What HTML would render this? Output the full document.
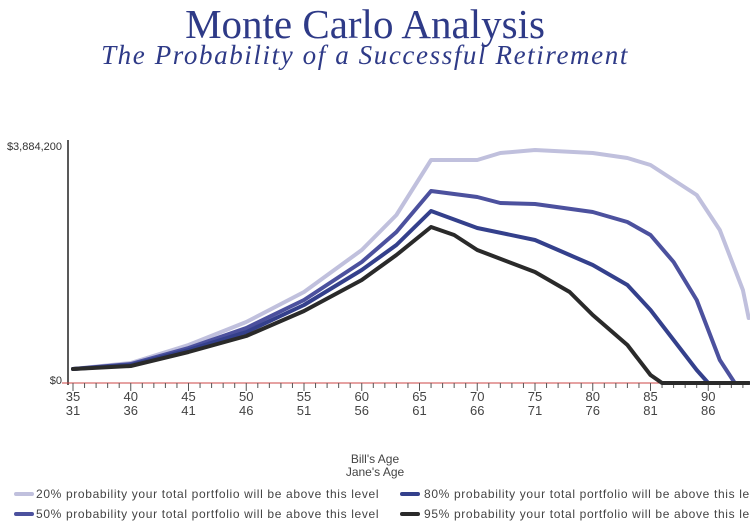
<!DOCTYPE html>
<html><head><meta charset="utf-8"><style>
body{margin:0;background:#fff;width:750px;height:530px;overflow:hidden;position:relative;font-family:"Liberation Sans",sans-serif}
.t{position:absolute;left:0;width:730px;text-align:center;color:#2e3a87;font-family:"Liberation Serif",serif}
</style></head><body>
<div class="t" style="top:0px;font-size:41px">Monte Carlo Analysis</div>
<div class="t" style="top:40px;font-size:27px;font-style:italic;letter-spacing:1.6px">The Probability of a Successful Retirement</div>
<svg width="750" height="530" style="position:absolute;left:0;top:0" font-family="Liberation Sans, sans-serif">
<text x="62" y="150" font-size="11" text-anchor="end" fill="#333">$3,884,200</text>
<text x="62" y="384" font-size="11" text-anchor="end" fill="#333">$0</text>
<line x1="68" y1="140" x2="68" y2="385" stroke="#222" stroke-width="1.5"/>
<line x1="62" y1="383" x2="750" y2="383" stroke="#c44" stroke-width="1"/>
<g id="ticks" stroke="#555" stroke-width="1"></g>
<g font-size="13" fill="#444" text-anchor="middle" id="lbl"></g>
<g fill="none" stroke-linejoin="round" stroke-linecap="round" stroke-width="4" id="cur"></g>
<text x="375" y="463" font-size="12" fill="#444" text-anchor="middle">Bill's Age</text>
<text x="375" y="476" font-size="12" fill="#444" text-anchor="middle">Jane's Age</text>
<line x1="16" y1="494" x2="32" y2="494" stroke="#c0c0dd" stroke-width="4" stroke-linecap="round"/>
<text x="36" y="498" font-size="12" fill="#444" letter-spacing="0.65">20% probability your total portfolio will be above this level</text>
<line x1="16" y1="514" x2="32" y2="514" stroke="#4c519e" stroke-width="4" stroke-linecap="round"/>
<text x="36" y="518" font-size="12" fill="#444" letter-spacing="0.65">50% probability your total portfolio will be above this level</text>
<line x1="402" y1="494" x2="418" y2="494" stroke="#34408c" stroke-width="4" stroke-linecap="round"/>
<text x="424" y="498" font-size="12" fill="#444" letter-spacing="0.65">80% probability your total portfolio will be above this level</text>
<line x1="402" y1="514" x2="418" y2="514" stroke="#2a2a2a" stroke-width="4" stroke-linecap="round"/>
<text x="424" y="518" font-size="12" fill="#444" letter-spacing="0.65">95% probability your total portfolio will be above this level</text>
</svg>
<script>
const X=a=>73+(a-35)*11.55;
const ns="http://www.w3.org/2000/svg";
const tk=document.getElementById('ticks'),lb=document.getElementById('lbl'),cu=document.getElementById('cur');
for(let a=35;a<=93;a++){const l=document.createElementNS(ns,'line');l.setAttribute('x1',X(a));l.setAttribute('x2',X(a));l.setAttribute('y1',383);l.setAttribute('y2',a%5==0?391:388);tk.appendChild(l);}
for(let a=35;a<=90;a+=5){[[a,401],[a-4,415]].forEach(([v,y])=>{const t=document.createElementNS(ns,'text');t.setAttribute('x',X(a));t.setAttribute('y',y);t.textContent=v;lb.appendChild(t);});}
const S=[
['#c0c0dd',[[35,369],[40,363],[45,345],[50,322],[55,292],[60,250],[63,215],[66,160],[70,160],[72,153],[75,150],[80,153],[83,158],[85,165],[87,180],[89,195],[91,230],[93,290],[93.5,318]]],
['#4c519e',[[35,369],[40,364],[45,348],[50,328],[55,300],[60,262],[63,232],[66,191],[70,197],[72,203],[75,204],[80,212],[83,222],[85,235],[87,262],[89,300],[91,360],[92.3,383],[93.5,383]]],
['#34408c',[[35,369],[40,365],[45,350],[50,332],[55,305],[60,270],[63,245],[66,211],[70,228],[75,240],[78,255],[80,265],[83,285],[85,310],[87,340],[89,370],[90,383],[93.5,383]]],
['#2a2a2a',[[35,369],[40,366],[45,352],[50,336],[55,311],[60,280],[63,255],[66,227],[68,235],[70,250],[75,272],[78,292],[80,315],[83,345],[85,375],[86,383],[93.5,383]]]];
S.forEach(([c,p])=>{const e=document.createElementNS(ns,'polyline');e.setAttribute('points',p.map(q=>X(q[0])+','+q[1]).join(' '));e.setAttribute('stroke',c);cu.appendChild(e);});
</script>
</body></html>
